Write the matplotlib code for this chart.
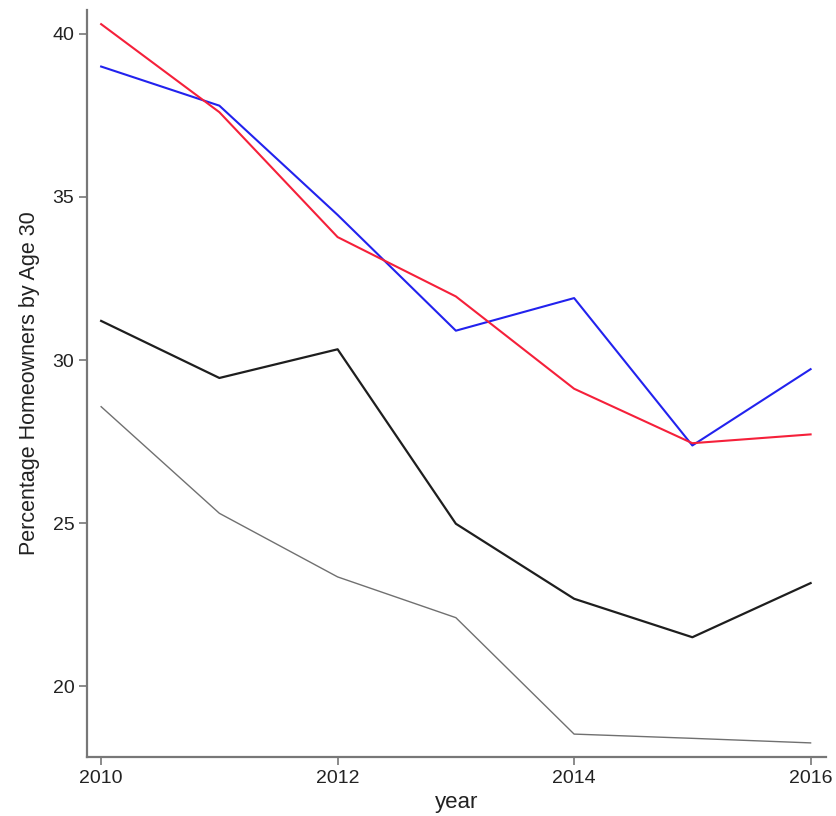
import matplotlib
matplotlib.use("Agg")
from matplotlib import pyplot as plt

plt.rcParams["font.family"] = ["Liberation Sans", "DejaVu Sans"]

years = [2010, 2011, 2012, 2013, 2014, 2015, 2016]
red_series = [40.3, 37.6, 33.77, 31.95, 29.12, 27.45, 27.72]
blue_series = [39.0, 37.8, 34.45, 30.9, 31.9, 27.38, 29.72]
black_series = [31.2, 29.45, 30.33, 24.98, 22.68, 21.5, 23.16]
gray_series = [28.57, 25.3, 23.35, 22.1, 18.53, 18.4, 18.26]

y_ticks = [20, 25, 30, 35, 40]
x_ticks = [2010, 2012, 2014, 2016]

fig = plt.figure(figsize=(8.36, 8.16), dpi=100)
ax = fig.add_axes([0.104, 0.072, 0.884, 0.916])

ax.plot(years, gray_series, color="#707070", lw=1.0)
ax.plot(years, black_series, color="#1e1e1e", lw=1.6)
ax.plot(years, blue_series, color="#2222ee", lw=1.5)
ax.plot(years, red_series, color="#f5203a", lw=1.5)

ax.set_xlim(2009.88, 2016.13)
ax.set_ylim(17.82, 40.74)
ax.set_xticks(x_ticks)
ax.set_yticks(y_ticks)
ax.tick_params(labelsize=14, labelcolor="#222222", color="#777777",
               length=6, width=1.2, pad=3)

for side in ("top", "right"):
    ax.spines[side].set_visible(False)
for side in ("left", "bottom"):
    ax.spines[side].set_color("#777777")
    ax.spines[side].set_linewidth(1.6)

ax.set_xlabel("year", fontsize=16, color="#222222", labelpad=4)
ax.set_ylabel("Percentage Homeowners by Age 30", fontsize=15.5,
              color="#222222", labelpad=9)

fig.savefig("out.png", dpi=100)
